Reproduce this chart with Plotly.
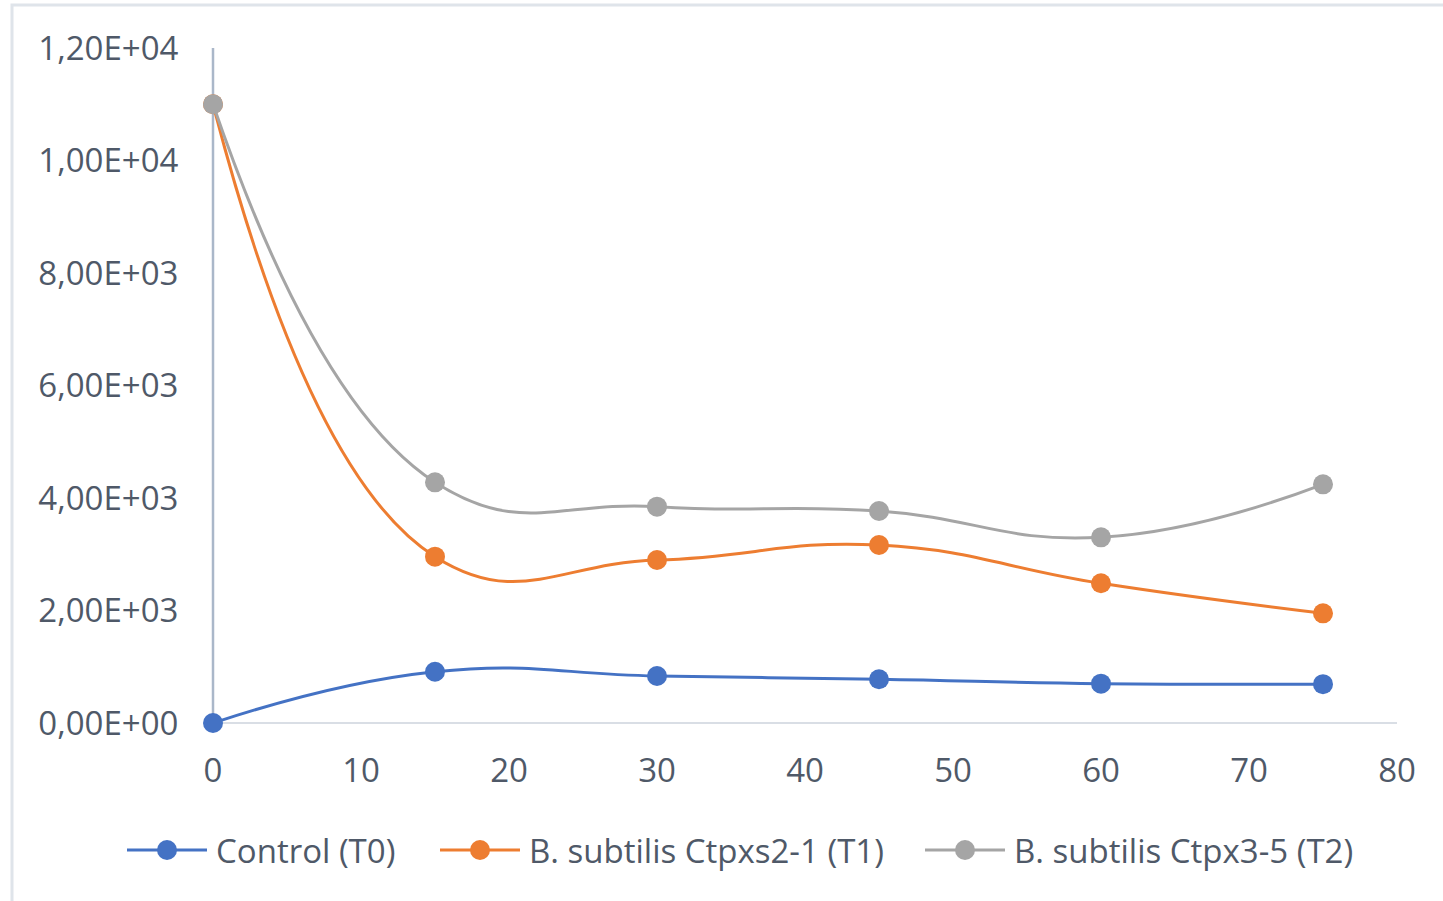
import plotly.graph_objects as go

time_min = [0, 15, 30, 45, 60, 75]
control_t0 = [0, 912, 836, 777, 700, 690]
ctpxs2_1_t1 = [11000, 2957, 2898, 3164, 2484, 1950]
ctpx3_5_t2 = [11000, 4279, 3846, 3769, 3301, 4243]

series_names = ["Control (T0)", "B. subtilis Ctpxs2-1 (T1)", "B. subtilis Ctpx3-5 (T2)"]
series_colors = ["#4472C4", "#ED7D31", "#A5A5A5"]

y_tickvals = [0, 2000, 4000, 6000, 8000, 10000, 12000]
y_ticktext = ["0,00E+00", "2,00E+03", "4,00E+03", "6,00E+03", "8,00E+03", "1,00E+04", "1,20E+04"]
x_tickvals = [0, 10, 20, 30, 40, 50, 60, 70, 80]

W, H = 1443, 901
ML, MR, MT, MB = 213, 46, 48, 178
FONT = "Open Sans"
FS = 33
TXT = "#4f5968"

pw = W - ML - MR
ph = H - MT - MB
def px_x(p):
    return (p - ML) / pw
def px_y(p):
    return (H - MB - p) / ph

fig = go.Figure()
for name, ys, col in zip(series_names, [control_t0, ctpxs2_1_t1, ctpx3_5_t2], series_colors):
    fig.add_trace(go.Scatter(
        x=time_min, y=ys, name=name, mode="lines+markers",
        line=dict(color=col, width=3, shape="spline", smoothing=1.3),
        marker=dict(color=col, size=20),
        cliponaxis=False, showlegend=False,
    ))

# custom legend (Excel style: long line with marker in the middle)
legend_left_px = [127, 440, 925]
legend_y_px = 850
shapes = [
    dict(type="rect", xref="paper", yref="paper",
         x0=px_x(12), x1=px_x(1470), y0=px_y(930), y1=px_y(5),
         line=dict(color="#dfe4ea", width=3), fillcolor="rgba(0,0,0,0)", layer="below"),
    dict(type="line", xref="paper", yref="paper", x0=0, x1=1, y0=0, y1=0,
         line=dict(color="#d9dee5", width=2), layer="below"),
    dict(type="line", xref="paper", yref="paper", x0=0, x1=0, y0=0, y1=1,
         line=dict(color="#aab7c9", width=2.5), layer="below"),
]
annotations = []
for name, col, lx in zip(series_names, series_colors, legend_left_px):
    shapes.append(dict(type="line", xref="paper", yref="paper",
                       x0=px_x(lx), x1=px_x(lx + 80), y0=px_y(legend_y_px), y1=px_y(legend_y_px),
                       line=dict(color=col, width=3)))
    shapes.append(dict(type="circle", xref="paper", yref="paper",
                       xsizemode="pixel", ysizemode="pixel",
                       xanchor=px_x(lx + 40), yanchor=px_y(legend_y_px),
                       x0=-10, x1=10, y0=-10, y1=10,
                       line=dict(color=col, width=0), fillcolor=col))
    annotations.append(dict(xref="paper", yref="paper", x=px_x(lx + 87), y=px_y(legend_y_px),
                            xanchor="left", yanchor="middle", text=name, showarrow=False,
                            font=dict(family=FONT, size=FS, color=TXT)))

fig.update_layout(
    width=W, height=H, autosize=False,
    margin=dict(l=ML, r=MR, t=MT, b=MB, pad=0),
    paper_bgcolor="white", plot_bgcolor="white",
    font=dict(family=FONT, size=FS, color=TXT),
    showlegend=False,
    xaxis=dict(range=[0, 80], tickvals=x_tickvals, showgrid=False, zeroline=False,
               showline=False, ticks="outside", ticklen=18, tickcolor="rgba(0,0,0,0)",
               tickfont=dict(family=FONT, size=FS, color=TXT), fixedrange=True),
    yaxis=dict(range=[0, 12000], tickvals=y_tickvals, ticktext=y_ticktext, showgrid=False,
               zeroline=False, showline=False, ticks="outside", ticklen=27,
               tickcolor="rgba(0,0,0,0)",
               tickfont=dict(family=FONT, size=FS, color=TXT), fixedrange=True),
    shapes=shapes,
    annotations=annotations,
)

fig.write_html("out.html", config={"displayModeBar": False},
               post_script="document.body.style.margin='0';document.body.style.overflow='hidden';")
